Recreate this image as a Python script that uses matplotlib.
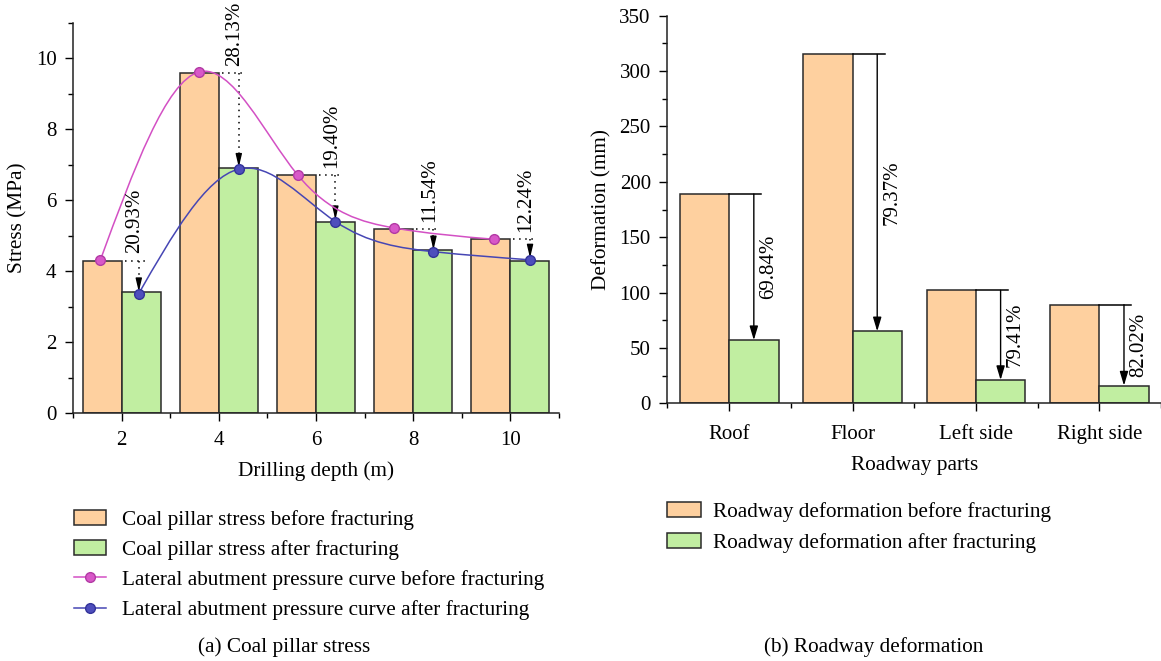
import numpy as np
import matplotlib.pyplot as plt
from matplotlib.path import Path
from matplotlib.patches import PathPatch
from matplotlib.lines import Line2D
from matplotlib.patches import Patch
from matplotlib.ticker import MultipleLocator

plt.rcParams['font.family'] = ['Liberation Serif', 'DejaVu Serif']
plt.rcParams['mathtext.fontset'] = 'stix'

# ---------------------------------------------------------
# Data (a) coal pillar stress
# ---------------------------------------------------------
depth = [2, 4, 6, 8, 10]
stress_before = [4.3, 9.6, 6.7, 5.2, 4.9]
stress_after = [3.4, 6.9, 5.4, 4.6, 4.3]
stress_drop = ["20.93%", "28.13%", "19.40%", "11.54%", "12.24%"]

# abutment pressure curves
curve_before_x = [1.56, 3.59, 5.62, 7.61, 9.67]
curve_before_y = [4.32, 9.62, 6.72, 5.22, 4.90]
curve_after_x = [2.35, 4.41, 6.40, 8.42, 10.41]
curve_after_y = [3.37, 6.88, 5.40, 4.55, 4.32]

# ---------------------------------------------------------
# Data (b) roadway deformation
# ---------------------------------------------------------
parts = ["Roof", "Floor", "Left side", "Right side"]
deform_before = [189, 315, 102, 89]
deform_after = [57, 65, 21, 16]
deform_drop = ["69.84%", "79.37%", "79.41%", "82.02%"]

ORANGE = "#FED09F"
GREEN = "#C1EEA1"
PINK = "#D350C4"
BLUE = "#4646B4"
EDGE = "#2a2a2a"

TICK_FS = 15
LABEL_FS = 15.3
ANNOT_FS = 15


def spline_path(xs, ys):
    # natural cubic spline drawn as bezier segments
    x = np.asarray(xs, float)
    y = np.asarray(ys, float)
    n = len(x)
    h = np.diff(x)
    A = np.zeros((n, n))
    b = np.zeros(n)
    A[0, 0] = A[-1, -1] = 1
    for i in range(1, n - 1):
        A[i, i - 1] = h[i - 1]
        A[i, i] = 2 * (h[i - 1] + h[i])
        A[i, i + 1] = h[i]
        b[i] = 6 * ((y[i + 1] - y[i]) / h[i] - (y[i] - y[i - 1]) / h[i - 1])
    M = np.linalg.solve(A, b)
    slopes = []
    for i in range(n - 1):
        slopes.append((y[i + 1] - y[i]) / h[i] - h[i] * (2 * M[i] + M[i + 1]) / 6)
    slopes.append((y[-1] - y[-2]) / h[-1] + h[-1] * (M[-2] + 2 * M[-1]) / 6)
    verts = [(x[0], y[0])]
    codes = [Path.MOVETO]
    for i in range(n - 1):
        verts += [(x[i] + h[i] / 3, y[i] + slopes[i] * h[i] / 3),
                  (x[i + 1] - h[i] / 3, y[i + 1] - slopes[i + 1] * h[i] / 3),
                  (x[i + 1], y[i + 1])]
        codes += [Path.CURVE4] * 3
    return Path(verts, codes)


def style_axis(ax, xpad):
    for s in ["top", "right"]:
        ax.spines[s].set_visible(False)
    for s in ["left", "bottom"]:
        ax.spines[s].set_linewidth(1.1)
        ax.spines[s].set_color("#222222")
    ax.tick_params(which="major", direction="out", length=6, width=1, labelsize=TICK_FS, pad=6)
    ax.tick_params(which="minor", direction="out", length=3.5, width=1)
    ax.tick_params(axis="x", which="major", pad=xpad)


fig = plt.figure(figsize=(11.61, 6.61), dpi=100)

# ---------------------------------------------------------
# (a) Coal pillar stress
# ---------------------------------------------------------
ax1 = fig.add_axes([0.0631, 0.3752, 0.4181, 0.590])
w = 0.8
x_before = [d - w / 2 for d in depth]
x_after = [d + w / 2 for d in depth]
ax1.bar(x_before, stress_before, width=w, color=ORANGE, edgecolor=EDGE, linewidth=1.1, zorder=2)
ax1.bar(x_after, stress_after, width=w, color=GREEN, edgecolor=EDGE, linewidth=1.1, zorder=2)

ax1.add_patch(PathPatch(spline_path(curve_before_x, curve_before_y), fill=False,
                        edgecolor=PINK, lw=1.1, zorder=4))
ax1.add_patch(PathPatch(spline_path(curve_after_x, curve_after_y), fill=False,
                        edgecolor=BLUE, lw=1.1, zorder=4))

for i, d in enumerate(depth):
    xv = curve_after_x[i]
    top = stress_before[i]
    ax1.plot([d + 0.06, d + 0.55], [top, top], ls=(0, (1, 3)), color="k", lw=1.1, zorder=3)
    ax1.plot([xv, xv], [top, curve_after_y[i] + 0.3], ls=(0, (1, 3)), color="k", lw=1.1, zorder=3)
    ax1.annotate("", xy=(xv, curve_after_y[i] + 0.05), xytext=(xv, curve_after_y[i] + 0.4),
                 arrowprops=dict(arrowstyle="-|>,head_length=0.55,head_width=0.13",
                                 color="k", lw=1, shrinkA=0, shrinkB=0, mutation_scale=14),
                 zorder=3)
    ax1.text(xv - 0.08, top + 0.2, stress_drop[i], rotation=90, ha="center", va="bottom",
             fontsize=ANNOT_FS, zorder=5)

ax1.plot(curve_before_x, curve_before_y, ls="none", marker="o", ms=7, mfc="#D858C8",
         mec="#B23AA4", mew=1, zorder=5)
ax1.plot(curve_after_x, curve_after_y, ls="none", marker="o", ms=7, mfc="#4E4EBC",
         mec="#33339A", mew=1, zorder=5)

ax1.set_xlim(1, 11)
ax1.set_ylim(0, 11)
ax1.xaxis.set_major_locator(MultipleLocator(2))
ax1.xaxis.set_minor_locator(MultipleLocator(2, offset=1))
ax1.yaxis.set_major_locator(MultipleLocator(2))
ax1.yaxis.set_minor_locator(MultipleLocator(1))
style_axis(ax1, 7)
ax1.set_xlabel("Drilling depth (m)", fontsize=LABEL_FS, labelpad=8)
ax1.set_ylabel("Stress (MPa)", fontsize=LABEL_FS, labelpad=6)

handles1 = [
    Patch(facecolor=ORANGE, edgecolor=EDGE, linewidth=1.1, label="Coal pillar stress before fracturing"),
    Patch(facecolor=GREEN, edgecolor=EDGE, linewidth=1.1, label="Coal pillar stress after fracturing"),
    Line2D([], [], color=PINK, lw=1.1, marker="o", ms=7, mfc="#D858C8", mec="#B23AA4",
           label="Lateral abutment pressure curve before fracturing"),
    Line2D([], [], color=BLUE, lw=1.1, marker="o", ms=7, mfc="#4E4EBC", mec="#33339A",
           label="Lateral abutment pressure curve after fracturing"),
]
fig.legend(handles=handles1, loc="upper left", bbox_to_anchor=(0.0637, 0.229), frameon=False,
           fontsize=LABEL_FS, borderpad=0, borderaxespad=0, handlelength=1.52,
           handleheight=0.74, handletextpad=0.72, labelspacing=0.47)

fig.text(0.2446, 0.0216, "(a) Coal pillar stress", ha="center", va="center", fontsize=LABEL_FS)

# ---------------------------------------------------------
# (b) Roadway deformation
# ---------------------------------------------------------
ax2 = fig.add_axes([0.5749, 0.3899, 0.4251, 0.5863])
pos = np.arange(1, len(parts) + 1)
bw = 0.4
ax2.bar(pos - bw / 2, deform_before, width=bw, color=ORANGE, edgecolor=EDGE, linewidth=1.1, zorder=2)
ax2.bar(pos + bw / 2, deform_after, width=bw, color=GREEN, edgecolor=EDGE, linewidth=1.1, zorder=2)

for i, p in enumerate(pos):
    b0 = deform_before[i]
    a0 = deform_after[i]
    ax2.plot([p, p + 0.26], [b0, b0], color="k", lw=1.1, zorder=3)
    ax2.annotate("", xy=(p + 0.2, a0), xytext=(p + 0.2, b0),
                 arrowprops=dict(arrowstyle="-|>,head_length=0.6,head_width=0.18",
                                 color="k", lw=1, shrinkA=0, shrinkB=0, mutation_scale=14),
                 zorder=3)
    ax2.text(p + 0.32, (b0 + a0) / 2, deform_drop[i], rotation=90, ha="center", va="center",
             fontsize=ANNOT_FS, zorder=5)

ax2.set_xlim(0.5, 4.5)
ax2.set_ylim(0, 350)
ax2.set_xticks(pos)
ax2.set_xticklabels(parts)
ax2.xaxis.set_minor_locator(MultipleLocator(1, offset=0.5))
ax2.yaxis.set_major_locator(MultipleLocator(50))
ax2.yaxis.set_minor_locator(MultipleLocator(25))
style_axis(ax2, 10)
ax2.set_xlabel("Roadway parts", fontsize=LABEL_FS, labelpad=8)
ax2.set_ylabel("Deformation (mm)", fontsize=LABEL_FS, labelpad=6)

handles2 = [
    Patch(facecolor=ORANGE, edgecolor=EDGE, linewidth=1.1, label="Roadway deformation before fracturing"),
    Patch(facecolor=GREEN, edgecolor=EDGE, linewidth=1.1, label="Roadway deformation after fracturing"),
]
fig.legend(handles=handles2, loc="upper left", bbox_to_anchor=(0.5748, 0.241), frameon=False,
           fontsize=LABEL_FS, borderpad=0, borderaxespad=0, handlelength=1.6,
           handleheight=0.74, handletextpad=0.55, labelspacing=0.52)

fig.text(0.7528, 0.0216, "(b) Roadway deformation", ha="center", va="center", fontsize=LABEL_FS)

fig.savefig("out.png", dpi=100)
